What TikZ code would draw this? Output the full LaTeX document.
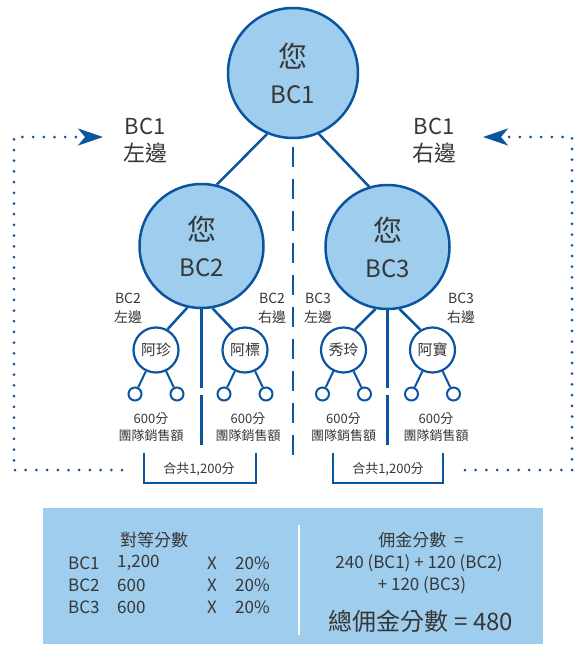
\documentclass[tikz,border=0pt]{standalone}
\usepackage{fontspec}
\setmainfont{Noto Sans CJK TC}
\usetikzlibrary{arrows.meta}
\definecolor{lineblue}{RGB}{10,85,160}
\definecolor{fillblue}{RGB}{158,205,237}
\definecolor{txtgray}{RGB}{55,55,55}

\newcommand{\nin}{{\fontsize{29}{29}\selectfont 您}}

\begin{document}
\begin{tikzpicture}[x=1pt,y=-1pt,
  big/.style={circle,draw=lineblue,fill=fillblue,line width=2.5pt,minimum size=124pt,inner sep=0pt,
    align=center,text=txtgray,font=\fontsize{24}{36}\selectfont},
  member/.style={circle,draw=lineblue,fill=white,line width=2.2pt,minimum size=45pt,inner sep=0pt,
    text=txtgray,font=\fontsize{15}{15}\selectfont},
  leaf/.style={circle,draw=lineblue,fill=white,line width=2pt,minimum size=13pt,inner sep=0pt},
  link/.style={draw=lineblue,line width=2.5pt},
  side/.style={align=center,text=txtgray,inner sep=0pt,font=\fontsize{14}{19}\selectfont},
  sales/.style={align=center,text=txtgray,inner sep=0pt,font=\fontsize{13}{17}\selectfont},
  boxtxt/.style={text=txtgray,inner sep=0pt,font=\fontsize{17}{17}\selectfont},
  dotline/.style={lineblue,line width=3pt,line cap=round,dash pattern=on 0pt off 10.7pt},
]

  \useasboundingbox (0,0) rectangle (579,645);

  % the three big circles
  \node[big,minimum size=130pt] (bcone) at (293,73) {\nin\\BC1};
  \node[big] (bctwo) at (201.5,246) {\nin\\BC2};
  \node[big] (bcthree) at (387.5,247) {\nin\\BC3};
  \draw[link] (bcone.247) -- (bctwo.76);
  \draw[link] (bcone.293) -- (bcthree.107);
  \coordinate (midend) at (293,465);
  \draw[link,dash pattern=on 20pt off 12pt] ([yshift=-8pt]bcone.south) -- (midend);

  % left and right of BC1
  \node[side,font=\fontsize{22}{27}\selectfont] (bconeleft) at (145,141) {BC1\\左邊};
  \node[side,font=\fontsize{22}{27}\selectfont] (bconeright) at (434,141) {BC1\\右邊};

  \node[side] (bctwoleft) at (128,308) {BC2\\左邊};
  \node[side] (bctworight) at (272,308) {BC2\\右邊};
  \node[side] (bcthreeleft) at (318,308) {BC3\\左邊};
  \node[side] (bcthreeright) at (461,308) {BC3\\右邊};

  % members
  \node[member] (azhen) at (156,350) {阿珍};
  \node[member] (abiao) at (245,350) {阿標};
  \node[member] (xiuling) at (343.5,350) {秀玲};
  \node[member] (abao) at (432.5,350) {阿寶};
  \draw[link] (bctwo.257) -- (azhen.61);
  \draw[link] (bctwo.280) -- (abiao.121);
  \draw[link] (bcthree.259) -- (xiuling.61);
  \draw[link] (bcthree.281) -- (abao.121);

  \coordinate (twoa) at (201.5,388);
  \coordinate (twob) at (201.5,395);
  \coordinate (twoc) at (201.5,445);
  \draw[link] (bctwo.south) -- (twoa);
  \draw[link] (twob) -- (twoc);
  \coordinate (threea) at (387.5,388);
  \coordinate (threeb) at (387.5,395);
  \coordinate (threec) at (387.5,445);
  \draw[link] (bcthree.south) -- (threea);
  \draw[link] (threeb) -- (threec);

  \foreach \m in {azhen,abiao,xiuling,abao} {
    \node[leaf] (\m l) at ([xshift=-21pt,yshift=-44pt]\m.center) {};
    \node[leaf] (\m r) at ([xshift=21pt,yshift=-44pt]\m.center) {};
    \draw[link,line width=2pt] (\m) -- (\m l);
    \draw[link,line width=2pt] (\m) -- (\m r);
  }

  \node[sales] (salesa) at (151,427) {600分\\團隊銷售額};
  \node[sales] (salesb) at (248,427) {600分\\團隊銷售額};
  \node[sales] (salesc) at (343.5,427) {600分\\團隊銷售額};
  \node[sales] (salesd) at (436,427) {600分\\團隊銷售額};

  % totals
  \draw[lineblue,line width=2.5pt] (144,453) -- (144,483) -- (256,483) -- (256,453);
  \node[sales] (sumleft) at (199,469) {合共1,200分};
  \draw[lineblue,line width=2.5pt] (333,453) -- (333,483) -- (443,483) -- (443,453);
  \node[sales] (sumright) at (388,469) {合共1,200分};

  % dotted returns
  \coordinate (la) at (122,470);
  \coordinate (lb) at (14,470);
  \coordinate (lc) at (14,137);
  \coordinate (ld) at (103,137);
  \draw[dotline,-{Stealth[length=25pt,width=17pt,inset=7pt]}] (la) -- (lb) -- (lc) -- (ld);
  \coordinate (ra) at (465,470);
  \coordinate (rb) at (572,470);
  \coordinate (rc) at (572,137);
  \coordinate (rd) at (483,137);
  \draw[dotline,-{Stealth[length=25pt,width=17pt,inset=7pt]}] (ra) -- (rb) -- (rc) -- (rd);

  % summary box
  \fill[fillblue] (43,508) rectangle (543,644);
  \draw[white,line width=2pt] (299,525) -- (299,635);

  \node[boxtxt] (peer) at (154,540) {對等分數};
  \node[boxtxt,anchor=west] (rowa) at (68,563) {BC1};
  \node[boxtxt,anchor=west] (rowb) at (68,585) {BC2};
  \node[boxtxt,anchor=west] (rowc) at (68,607) {BC3};
  \node[boxtxt,anchor=west] (pta) at (117,563) {1,200};
  \node[boxtxt,anchor=west] (ptb) at (117,585) {600};
  \node[boxtxt,anchor=west] (ptc) at (117,607) {600};
  \node[boxtxt] (xa) at (212,563) {X};
  \node[boxtxt] (xb) at (212,585) {X};
  \node[boxtxt] (xc) at (212,607) {X};
  \node[boxtxt,anchor=west] (pca) at (235,563) {20\%};
  \node[boxtxt,anchor=west] (pcb) at (235,585) {20\%};
  \node[boxtxt,anchor=west] (pcc) at (235,607) {20\%};

  \node[boxtxt] (comm) at (421,540) {佣金分數\ \ =};
  \node[boxtxt] (comma) at (419,563) {240 (BC1) + 120 (BC2)};
  \node[boxtxt] (commb) at (422,585) {+ 120 (BC3)};
  \node[boxtxt,font=\fontsize{24}{24}\selectfont] (total) at (421,621) {總佣金分數 = 480};
\end{tikzpicture}
\end{document}
